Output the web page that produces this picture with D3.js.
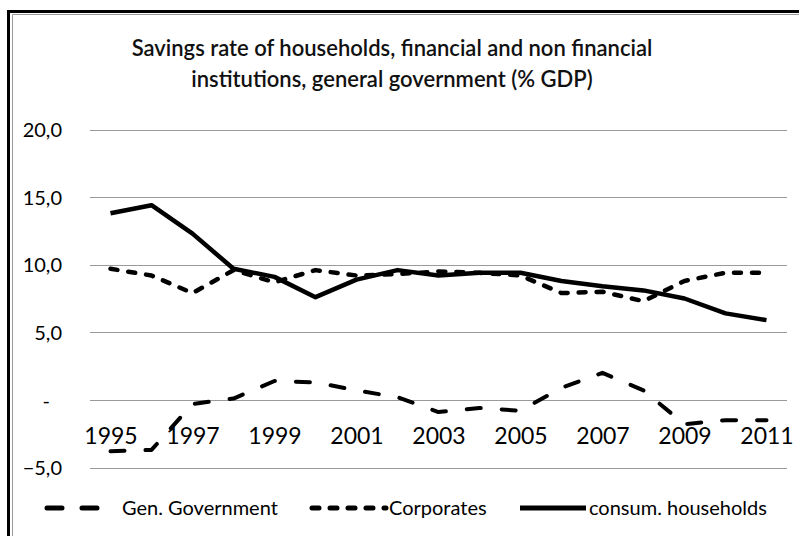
<!DOCTYPE html>
<html><head><meta charset="utf-8">
<script src="https://cdn.jsdelivr.net/npm/d3@7"></script>
<style>body{margin:0;background:#fff} svg{display:block}</style>
</head><body>
<script>
const years = [1995,1996,1997,1998,1999,2000,2001,2002,2003,2004,2005,2006,2007,2008,2009,2010,2011];
const genGov = [-3.8,-3.7,-0.3,0.1,1.4,1.3,0.7,0.2,-0.9,-0.6,-0.8,0.9,2.0,0.7,-1.8,-1.5,-1.5];
const corporates = [9.7,9.2,7.9,9.6,8.7,9.6,9.2,9.3,9.5,9.4,9.2,7.9,8.0,7.3,8.8,9.4,9.4];
const households = [13.8,14.4,12.3,9.7,9.1,7.6,8.9,9.6,9.2,9.4,9.4,8.8,8.4,8.1,7.5,6.4,5.9];
const yTicks = [-5,0,5,10,15,20];
const xTickYears = [1995,1997,1999,2001,2003,2005,2007,2009,2011];
const titleLines = ["Savings rate of households, financial and non financial","institutions, general government (% GDP)"];
const seriesNames = ["Gen. Government","Corporates","consum. households"];

const W = 799, H = 536;
const svg = d3.select("body").append("svg").attr("width", W).attr("height", H);
const font = "Lato, 'Open Sans', sans-serif";

// chart border
svg.append("path").attr("d", "M8.5,540 V11.5 H805").attr("fill","none").attr("stroke","#000").attr("stroke-width",3);
svg.append("path").attr("d", "M12.5,540 V14.5 H805").attr("fill","none").attr("stroke","#999").attr("stroke-width",1);

const x = d3.scalePoint().domain(years).range([90, 787]).padding(0.5);
const y = d3.scaleLinear().domain([-5, 20]).range([467.5, 129.5]);

// gridlines
const grid = svg.append("g").attr("transform","translate(90,0)")
  .call(d3.axisLeft(y).tickValues(yTicks).tickSize(-697).tickFormat(""));
grid.select(".domain").remove();
grid.selectAll("line").attr("stroke","#9a9a9a").attr("stroke-width",1).attr("shape-rendering","crispEdges");

// y axis labels
const loc = d3.formatLocale({decimal:",", thousands:".", grouping:[3], currency:["",""]});
const f1 = loc.format(".1f");
const yAx = svg.append("g").attr("transform","translate(90,0)")
  .call(d3.axisLeft(y).tickValues(yTicks).tickSize(0).tickPadding(28).tickFormat(d => d === 0 ? "-" : f1(d)));
yAx.select(".domain").remove();
yAx.selectAll("text").attr("font-family", font).attr("font-size", 20).attr("fill","#000")
  .attr("dy","0.36em").attr("dx", d => d === 0 ? -12 : 0);

// x axis labels
const xAx = svg.append("g").attr("transform",`translate(0,${y(0)})`)
  .call(d3.axisBottom(x).tickValues(xTickYears).tickSize(0));
xAx.select(".domain").remove();
xAx.selectAll("text").attr("font-family", font).attr("font-size", 23).attr("fill","#000")
  .attr("y", 44).attr("dy", null);

// lines
const line = d3.line().x((d,i) => x(years[i])).y(d => y(d));
const styles = [
  {data: genGov, dash: "14,21", w: 4},
  {data: corporates, dash: "7,11", w: 4.5},
  {data: households, dash: null, w: 4.5}
];
styles.forEach(s => {
  svg.append("path").datum(s.data).attr("d", line)
    .attr("fill","none").attr("stroke","#000").attr("stroke-width", s.w)
    .attr("stroke-linecap", s.dash ? "round" : "butt").attr("stroke-linejoin","round")
    .attr("stroke-dasharray", s.dash);
});

// title
const title = svg.append("text").attr("font-family", font).attr("font-size", 22)
  .attr("font-weight", 600).attr("fill","#111").attr("text-anchor","middle");
titleLines.forEach((t,i) => title.append("tspan").attr("x", 392).attr("y", 56 + i*31).text(t));

// legend
const legY = 508;
const leg = [
  {sx0: 47, sx1: 101, tx: 122},
  {sx0: 312, sx1: 386, tx: 389},
  {sx0: 520, sx1: 586, tx: 589}
];
leg.forEach((l, i) => {
  svg.append("line").attr("x1", l.sx0).attr("x2", l.sx1).attr("y1", legY).attr("y2", legY)
    .attr("stroke","#000").attr("stroke-width", 5)
    .attr("stroke-linecap", styles[i].dash ? "round" : "butt")
    .attr("stroke-dasharray", i === 0 ? "15,20" : styles[i].dash);
  svg.append("text").attr("x", l.tx).attr("y", legY).attr("dy","0.35em")
    .attr("font-family", font).attr("font-size", 20).attr("fill","#000").text(seriesNames[i]);
});
</script>
</body></html>
